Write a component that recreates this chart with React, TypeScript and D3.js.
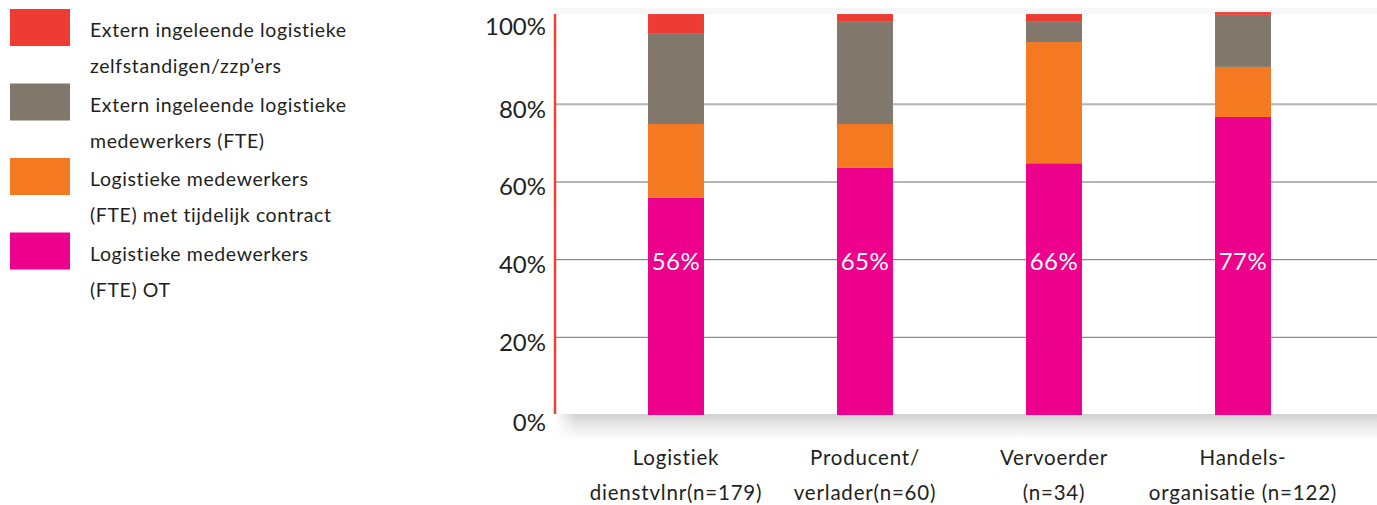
import React from 'react';
import * as d3 from 'd3';

const categories = ['Logistiek dienstvlnr', 'Producent/verlader', 'Vervoerder', 'Handelsorganisatie'];
const categoryLines = [
    ['Logistiek', 'dienstvlnr(n=179)'],
    ['Producent/', 'verlader(n=60)'],
    ['Vervoerder', '(n=34)'],
    ['Handels-', 'organisatie (n=122)'],
];

// percentages per segment (bottom to top)
const vastOT = [56, 63.6, 64.8, 76.7];
const tijdelijk = [18.9, 11.3, 31.2, 12.9];
const externFte = [23.2, 26.3, 5.2, 13.4];
const zzp = [5.1, 2.0, 2.0, 0.7];
const barLabels = ['56%', '65%', '66%', '77%'];

const yTicks = [0, 20, 40, 60, 80, 100];

const seriesKeys = ['ot', 'tijdelijk', 'extern', 'zzp'];
const seriesColors: Record<string, string> = {
    ot: '#ec008c',
    tijdelijk: '#f47920',
    extern: '#82776b',
    zzp: '#ee3b33',
};

const legendItems = [
    { key: 'zzp', lines: ['Extern ingeleende logistieke', 'zelfstandigen/zzp\u2019ers'] },
    { key: 'extern', lines: ['Extern ingeleende logistieke', 'medewerkers (FTE)'] },
    { key: 'tijdelijk', lines: ['Logistieke medewerkers', '(FTE) met tijdelijk contract'] },
    { key: 'ot', lines: ['Logistieke medewerkers', '(FTE) OT'] },
];

const FONT = 'Lato, "Open Sans", sans-serif';
const TEXT = '#231f20';

const App: React.FC = () => {
    const width = 1377;
    const height = 505;

    const axisX = 555;
    const plotTop = 14;
    const plotBottom = 415;

    const rows = categories.map((c, i) => ({
        cat: c,
        ot: vastOT[i],
        tijdelijk: tijdelijk[i],
        extern: externFte[i],
        zzp: zzp[i],
    }));

    const stacked = d3.stack<any>().keys(seriesKeys)(rows);

    const x = d3.scaleBand<string>()
        .domain(categories)
        .range([581.5, 1337.5])
        .paddingInner(0.704)
        .paddingOuter(0.352);

    const y = d3.scaleLinear()
        .domain([0, 100])
        .range([plotBottom, 26.5]);

    return (
        <div style={{ position: 'absolute', left: 0, top: 0 }}>
            <svg width={width} height={height} style={{ display: 'block', fontFamily: FONT }}>
                <defs>
                    <linearGradient id="shadow" x1="0" y1="0" x2="0" y2="1">
                        <stop offset="0%" stopColor="#cfd0d1" />
                        <stop offset="35%" stopColor="#e6e6e6" />
                        <stop offset="100%" stopColor="#ffffff" />
                    </linearGradient>
                    <linearGradient id="shadowLeft" x1="0" y1="0" x2="1" y2="0">
                        <stop offset="0%" stopColor="#ffffff" stopOpacity="1" />
                        <stop offset="100%" stopColor="#ffffff" stopOpacity="0" />
                    </linearGradient>
                </defs>

                {/* legend */}
                {legendItems.map((item, i) => (
                    <g key={item.key} transform={`translate(0, ${9 + i * 74.5})`}>
                        <rect x={10} y={0} width={60} height={37} fill={seriesColors[item.key]} />
                        {item.lines.map((ln, j) => (
                            <text key={j} x={90} y={28 + j * 36} fontSize={19.5} fill={TEXT} letterSpacing={0.6}>
                                {ln}
                            </text>
                        ))}
                    </g>
                ))}

                {/* plot shadow */}
                <rect x={axisX} y={8} width={width - axisX} height={plotTop - 8} fill="#f7f7f7" />
                <rect x={axisX} y={plotBottom - 1} width={width - axisX} height={26} fill="url(#shadow)" />
                <rect x={axisX} y={plotBottom - 1} width={20} height={26} fill="url(#shadowLeft)" />
                <rect x={axisX} y={plotTop} width={width - axisX} height={plotBottom - plotTop - 1} fill="#ffffff" />

                {/* grid lines */}
                {yTicks.filter(t => t > 0 && t < 100).map(t => (
                    <line key={t} x1={axisX} x2={width} y1={y(t)} y2={y(t)}
                        stroke={t >= 60 ? '#b7b3ad' : '#948c82'} strokeWidth={t >= 60 ? 2 : 1.2} />
                ))}

                {/* bars */}
                {stacked.map(layer => (
                    <g key={layer.key} fill={seriesColors[layer.key]}>
                        {layer.map((d, i) => (
                            <rect key={i}
                                x={x(categories[i])}
                                y={y(d[1])}
                                width={x.bandwidth()}
                                height={y(d[0]) - y(d[1])}
                            />
                        ))}
                    </g>
                ))}

                {/* value labels */}
                {barLabels.map((lb, i) => (
                    <text key={i} x={(x(categories[i]) as number) + x.bandwidth() / 2} y={y(40) + 10.5}
                        textAnchor="middle" fontSize={24} fill="#ffffff" letterSpacing={0.5}>
                        {lb}
                    </text>
                ))}

                {/* y axis */}
                <line x1={axisX} x2={axisX} y1={plotTop} y2={plotBottom - 1} stroke="#ef4136" strokeWidth={2.5} />
                {yTicks.map(t => (
                    <text key={t} x={546} y={y(t) + (t === 100 ? 8.5 : t === 0 ? 16 : 13.5)}
                        textAnchor="end" fontSize={24} fill={TEXT}>
                        {`${t}%`}
                    </text>
                ))}

                {/* x labels */}
                {categoryLines.map((lines, i) => (
                    <g key={i}>
                        {lines.map((ln, j) => (
                            <text key={j} x={(x(categories[i]) as number) + x.bandwidth() / 2} y={465 + j * 35}
                                textAnchor="middle" fontSize={20.5} fill={TEXT} letterSpacing={0.8}>
                                {ln}
                            </text>
                        ))}
                    </g>
                ))}
            </svg>
        </div>
    );
};

export default App;
